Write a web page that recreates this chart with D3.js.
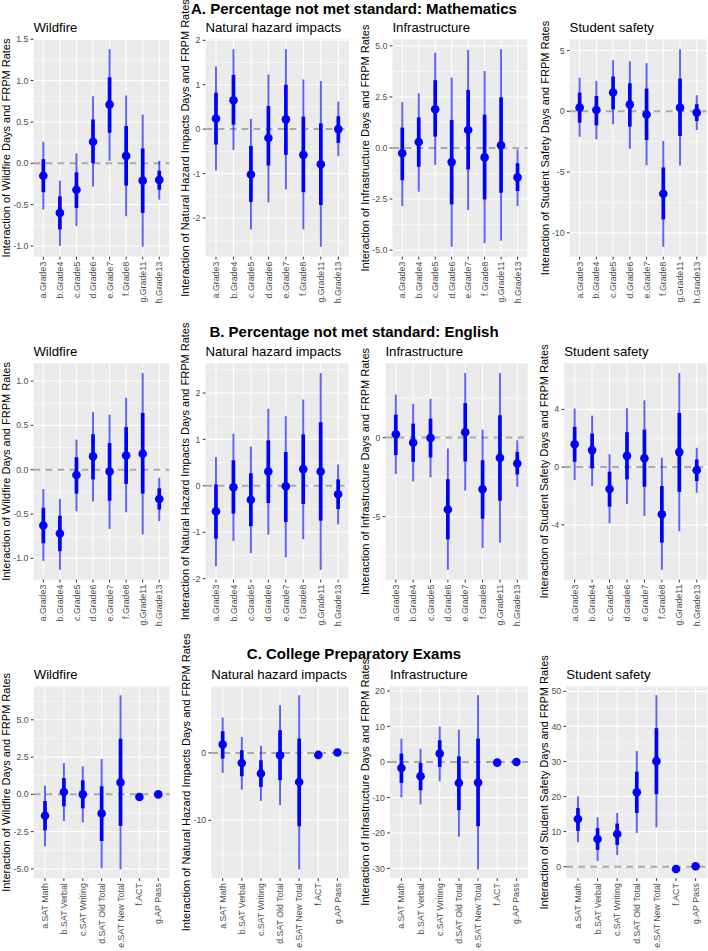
<!DOCTYPE html>
<html><head><meta charset="utf-8">
<script src="https://cdn.jsdelivr.net/npm/d3@7"></script>
<style>body{margin:0;background:#fff}svg{display:block;font-family:"Liberation Sans",Arial,Helvetica,sans-serif}</style>
</head><body><svg id="c" width="708" height="951"></svg>
<script>
// ---------- DATA ----------
// each row: [estimate, innerLow, innerHigh, outerLow, outerHigh]
const gradeCats = ["a.Grade3","b.Grade4","c.Grade5","d.Grade6","e.Grade7","f.Grade8","g.Grade11","h.Grade13"];
const examCats = ["a.SAT Math","b.SAT Verbal","c.SAT Writing","d.SAT Old Total","e.SAT New Total","f.ACT","g.AP Pass"];

const rowHeadings = ["A. Percentage not met standard: Mathematics","B. Percentage not met standard: English","C. College Preparatory Exams"];
const panelTitles = ["Wildfire","Natural hazard impacts","Infrastructure","Student safety"];
const yTitles = ["Interaction of Wildfire Days and FRPM Rates","Interaction of Natural Hazard Impacts Days and FRPM Rates","Interaction of Infrastructure Days and FRPM Rates","Interaction of Student Safety Days and FRPM Rates"];

const mathWildfire = [[-0.15,-0.35,0.05,-0.56,0.26],[-0.60,-0.80,-0.40,-1.00,-0.21],[-0.32,-0.54,-0.11,-0.76,0.12],[0.26,0.00,0.53,-0.28,0.81],[0.71,0.37,1.04,0.03,1.38],[0.09,-0.27,0.45,-0.64,0.82],[-0.21,-0.60,0.18,-1.01,0.59],[-0.20,-0.32,-0.09,-0.44,0.03]];
const mathHazard = [[0.24,-0.35,0.82,-0.93,1.41],[0.65,0.10,1.22,-0.47,1.80],[-1.02,-1.64,-0.38,-2.26,0.23],[-0.20,-0.82,0.52,-1.65,1.23],[0.22,-0.58,1.00,-1.36,1.80],[-0.58,-1.42,0.28,-2.26,1.12],[-0.79,-1.71,0.13,-2.65,1.08],[0.00,-0.31,0.29,-0.61,0.62]];
const mathInfra = [[-0.26,-1.58,1.00,-2.84,2.25],[0.29,-0.92,1.50,-2.14,2.68],[1.90,0.56,3.32,-0.83,4.67],[-0.69,-2.76,1.37,-4.84,3.45],[0.88,-1.05,2.84,-3.04,4.80],[-0.46,-2.52,1.63,-4.67,3.77],[0.13,-2.19,2.48,-4.54,4.84],[-1.44,-2.11,-0.75,-2.84,-0.07]];
const mathSafety = [[0.30,-0.93,1.54,-2.09,2.77],[0.11,-1.15,1.26,-2.31,2.50],[1.54,0.16,2.86,-1.07,4.20],[0.55,-1.26,2.31,-3.08,4.12],[-0.27,-2.36,1.87,-4.45,3.96],[-6.79,-8.90,-4.62,-11.15,-2.45],[0.30,-2.03,2.69,-4.45,5.11],[-0.11,-0.80,0.58,-1.54,1.32]];

const engWildfire = [[-0.63,-0.83,-0.43,-1.03,-0.22],[-0.72,-0.92,-0.52,-1.13,-0.33],[-0.06,-0.27,0.14,-0.47,0.34],[0.15,-0.11,0.40,-0.36,0.65],[-0.02,-0.35,0.30,-0.67,0.62],[0.16,-0.16,0.48,-0.48,0.81],[0.18,-0.27,0.64,-0.73,1.09],[-0.33,-0.45,-0.21,-0.58,-0.09]];
const engHazard = [[-0.55,-1.14,0.03,-1.73,0.62],[-0.03,-0.60,0.55,-1.19,1.12],[-0.30,-0.87,0.27,-1.45,0.85],[0.31,-0.37,0.98,-1.05,1.66],[-0.01,-0.78,0.73,-1.54,1.50],[0.36,-0.39,1.11,-1.15,1.86],[0.31,-0.75,1.37,-1.81,2.43],[-0.18,-0.50,0.14,-0.83,0.46]];
const engInfra = [[0.21,-1.11,1.45,-2.31,2.73],[-0.32,-1.53,0.88,-2.77,2.14],[-0.02,-1.26,1.20,-2.52,2.46],[-4.54,-6.43,-2.63,-8.36,-0.69],[0.34,-1.51,2.18,-3.36,4.08],[-3.26,-5.13,-1.43,-6.97,0.50],[-1.28,-3.99,1.41,-6.64,4.08],[-1.64,-2.33,-0.90,-3.11,-0.17]];
const engSafety = [[1.59,0.37,2.79,-0.90,4.06],[1.18,-0.09,2.33,-1.31,3.57],[-1.52,-2.74,-0.32,-3.89,0.90],[0.78,-0.85,2.42,-2.56,4.08],[0.62,-1.36,2.60,-3.39,4.63],[-3.27,-5.23,-1.31,-7.12,0.65],[1.04,-1.71,3.76,-4.45,6.52],[-0.21,-0.97,0.53,-1.77,1.34]];

const prepWildfire = [[-1.43,-2.41,-0.45,-3.48,0.58],[0.16,-0.80,1.09,-1.79,2.10],[0.00,-0.94,0.94,-1.88,1.88],[-1.29,-3.13,0.54,-4.96,2.37],[0.80,-2.12,3.73,-5.04,6.65],[-0.18,-0.22,-0.14,-0.26,-0.10],[0.00,-0.02,0.02,-0.04,0.04]];
const prepHazard = [[1.24,-0.84,3.22,-2.97,5.25],[-1.49,-3.47,0.40,-5.45,2.38],[-3.07,-5.05,-1.09,-7.13,1.04],[-0.35,-4.06,3.37,-7.77,7.08],[-4.31,-10.9,2.13,-17.3,8.56],[-0.30,-0.35,-0.25,-0.40,-0.20],[0.05,0.00,0.10,-0.05,0.15]];
const prepInfra = [[-1.69,-5.90,2.35,-10.0,6.57],[-4.03,-7.97,-0.28,-12.0,3.75],[2.35,-1.41,6.10,-5.44,10.0],[-5.91,-13.6,1.59,-21.1,9.10],[-5.82,-18.1,6.57,-30.3,18.8],[-0.19,-0.25,-0.13,-0.30,-0.08],[0.00,-0.05,0.05,-0.10,0.10]];
const prepSafety = [[13.6,10.2,16.7,7.0,20.0],[7.9,4.8,11.0,1.6,14.1],[9.3,6.2,12.3,3.3,15.3],[21.2,15.3,27.1,9.6,33.0],[30.1,20.7,39.5,11.2,48.9],[-0.67,-0.75,-0.60,-0.80,-0.55],[0.10,0.05,0.15,0.00,0.20]];

// tick values and labels per panel
const mathWildfireTicks = [-1,-0.5,0,0.5,1,1.5], mathWildfireLabels = ["-1.0","-0.5","0.0","0.5","1.0","1.5"];
const mathHazardTicks = [-2,-1,0,1,2], mathHazardLabels = ["-2","-1","0","1","2"];
const mathInfraTicks = [-5,-2.5,0,2.5,5], mathInfraLabels = ["-5.0","-2.5","0.0","2.5","5.0"];
const mathSafetyTicks = [-10,-5,0,5], mathSafetyLabels = ["-10","-5","0","5"];
const engWildfireTicks = [-1,-0.5,0,0.5,1], engWildfireLabels = ["-1.0","-0.5","0.0","0.5","1.0"];
const engHazardTicks = [-2,-1,0,1,2], engHazardLabels = ["-2","-1","0","1","2"];
const engInfraTicks = [-5,0], engInfraLabels = ["-5","0"];
const engSafetyTicks = [-4,0,4], engSafetyLabels = ["-4","0","4"];
const prepWildfireTicks = [-5,-2.5,0,2.5,5], prepWildfireLabels = ["-5.0","-2.5","0.0","2.5","5.0"];
const prepHazardTicks = [-10,0], prepHazardLabels = ["-10","0"];
const prepInfraTicks = [-30,-20,-10,0,10,20], prepInfraLabels = ["-30","-20","-10","0","10","20"];
const prepSafetyTicks = [0,10,20,30,40,50], prepSafetyLabels = ["0","10","20","30","40","50"];

// ---------- LAYOUT ----------
const rowsLayout = [
  {top:39.3, bottom:256.7, headY:14, xs:[[33.4,169.2],[205.5,348.8],[392.4,527.4],[569.6,706.8]]},
  {top:363.2, bottom:579.7, headY:337.3, xs:[[33.4,169.2],[205.5,348.6],[385.4,527.7],[564.2,707.2]]},
  {top:686.5, bottom:878.2, headY:659.3, xs:[[33.7,169.6],[211.2,348.9],[389.9,527.9],[566.2,707.4]]}
];
const panelData = [
  [[mathWildfire,mathWildfireTicks,mathWildfireLabels],[mathHazard,mathHazardTicks,mathHazardLabels],[mathInfra,mathInfraTicks,mathInfraLabels],[mathSafety,mathSafetyTicks,mathSafetyLabels]],
  [[engWildfire,engWildfireTicks,engWildfireLabels],[engHazard,engHazardTicks,engHazardLabels],[engInfra,engInfraTicks,engInfraLabels],[engSafety,engSafetyTicks,engSafetyLabels]],
  [[prepWildfire,prepWildfireTicks,prepWildfireLabels],[prepHazard,prepHazardTicks,prepHazardLabels],[prepInfra,prepInfraTicks,prepInfraLabels],[prepSafety,prepSafetyTicks,prepSafetyLabels]]
];
const rowCats = [gradeCats, gradeCats, examCats];

const svg = d3.select("#c");
svg.append("rect").attr("width",708).attr("height",951).attr("fill","#fff");

function drawPanel(box, cats, vals, ticks, labels, title, ylab) {
  const g = svg.append("g");
  const {left,right,top,bottom} = box;
  const x = d3.scalePoint().domain(cats).range([left,right]).padding(0.6);
  let lo = d3.min(vals, d=>d[3]), hi = d3.max(vals, d=>d[4]);
  lo = Math.min(lo,0); hi = Math.max(hi,0);
  const r = hi - lo;
  const y = d3.scaleLinear().domain([lo-0.05*r, hi+0.05*r]).range([bottom, top]);
  g.append("rect").attr("x",left).attr("y",top).attr("width",right-left).attr("height",bottom-top).attr("fill","#ebebeb");
  const step = ticks.length>1 ? ticks[1]-ticks[0] : 1;
  const minors = [];
  const [d0,d1] = y.domain();
  for (let v = ticks[0]-step/2; v <= d1; v += step) if (v >= d0) minors.push(v);
  g.selectAll(".mn").data(minors).join("line").attr("x1",left).attr("x2",right)
    .attr("y1",d=>y(d)).attr("y2",d=>y(d)).attr("stroke","#fff").attr("stroke-width",0.55);
  g.selectAll(".mj").data(ticks).join("line").attr("x1",left).attr("x2",right)
    .attr("y1",d=>y(d)).attr("y2",d=>y(d)).attr("stroke","#fff").attr("stroke-width",1.1);
  g.selectAll(".vx").data(cats).join("line").attr("x1",d=>x(d)).attr("x2",d=>x(d))
    .attr("y1",top).attr("y2",bottom).attr("stroke","#fff").attr("stroke-width",1.1);
  g.append("line").attr("x1",left).attr("x2",right).attr("y1",y(0)).attr("y2",y(0))
    .attr("stroke","#aaaaaa").attr("stroke-width",2).attr("stroke-dasharray","7,5");
  g.selectAll(".o").data(vals).join("line")
    .attr("x1",(d,i)=>x(cats[i])).attr("x2",(d,i)=>x(cats[i]))
    .attr("y1",d=>y(d[3])).attr("y2",d=>y(d[4]))
    .attr("stroke","#0000ff").attr("stroke-opacity",0.62).attr("stroke-width",1.9);
  g.selectAll(".in").data(vals).join("line")
    .attr("x1",(d,i)=>x(cats[i])).attr("x2",(d,i)=>x(cats[i]))
    .attr("y1",d=>y(d[1])).attr("y2",d=>y(d[2]))
    .attr("stroke","#0000ff").attr("stroke-width",3.7);
  g.selectAll(".pt").data(vals).join("circle")
    .attr("cx",(d,i)=>x(cats[i])).attr("cy",d=>y(d[0])).attr("r",4.3).attr("fill","#0000ff");
  g.selectAll(".yt").data(ticks).join("line").attr("x1",left-2.75).attr("x2",left)
    .attr("y1",d=>y(d)).attr("y2",d=>y(d)).attr("stroke","#333").attr("stroke-width",1);
  g.selectAll(".xt").data(cats).join("line").attr("x1",d=>x(d)).attr("x2",d=>x(d))
    .attr("y1",bottom).attr("y2",bottom+2.75).attr("stroke","#333").attr("stroke-width",1);
  const yl = g.selectAll(".yl").data(ticks).join("text").attr("x",left-5).attr("y",d=>y(d)).attr("dy","0.35em")
    .attr("text-anchor","end").attr("font-size",8.8).attr("fill","#4d4d4d").text((d,i)=>labels[i]);
  let maxW = 0; yl.each(function(){ maxW = Math.max(maxW, this.getComputedTextLength()); });
  g.selectAll(".xl").data(cats).join("text")
    .attr("transform",d=>`translate(${x(d)},${bottom+5}) rotate(-90)`).attr("dy","0.35em")
    .attr("text-anchor","end").attr("font-size",8.8).attr("fill","#4d4d4d").text(d=>d);
  g.append("text").attr("x",left).attr("y",top-7.6).attr("font-size",13.2).attr("fill","#000").text(title);
  const yc = (top+bottom)/2, xb = left - 5 - maxW - 3.2;
  g.append("text").attr("transform",`translate(${xb},${yc}) rotate(-90)`).attr("text-anchor","middle")
    .attr("font-size",11).attr("fill","#000").text(ylab);
}

rowsLayout.forEach((row, ri) => {
  row.xs.forEach((xr, pi) => {
    const [vals,ticks,labels] = panelData[ri][pi];
    drawPanel({left:xr[0],right:xr[1],top:row.top,bottom:row.bottom}, rowCats[ri], vals, ticks, labels, panelTitles[pi], yTitles[pi]);
  });
});
rowsLayout.forEach((row, ri) => {
  svg.append("text").attr("x",354).attr("y",row.headY).attr("text-anchor","middle")
    .attr("font-size",15).attr("font-weight","bold").attr("fill","#000").text(rowHeadings[ri]);
});
</script></body></html>
